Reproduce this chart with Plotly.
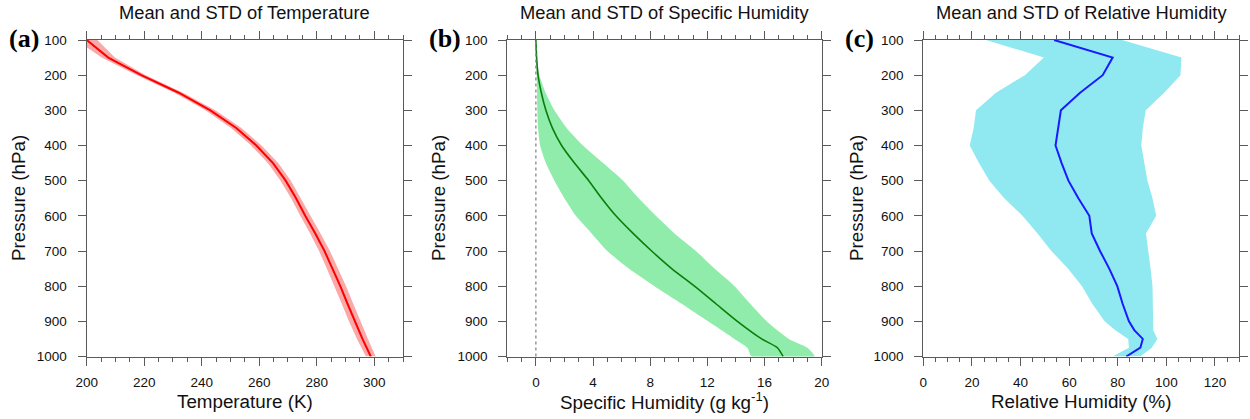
import plotly.graph_objects as go
from plotly.subplots import make_subplots

# --- data ------------------------------------------------------------------
# (a) temperature, K
t_levels = [100, 150, 200, 250, 300, 350, 400, 450, 500, 550,
            600, 650, 700, 750, 800, 850, 900, 950, 1000]
t_mean = [200.0, 207.5, 219.0, 232.0, 243.0, 252.0, 259.0, 264.8, 269.2, 272.8,
          276.0, 279.5, 282.7, 285.5, 288.2, 290.7, 293.2, 295.9, 298.8]
t_std = [3.7, 2.3, 1.5, 1.5, 1.7, 1.8, 1.8, 1.8, 1.8, 1.7,
         1.7, 1.8, 1.9, 2.0, 2.0, 2.0, 2.0, 1.9, 1.7]

# (b) specific humidity, g/kg
q_levels = [100, 150, 200, 250, 300, 350, 400, 450, 500, 550,
            600, 650, 700, 750, 800, 850, 900, 950, 975, 1000]
q_mean = [0.0, 0.05, 0.15, 0.38, 0.7, 1.15, 1.8, 2.7, 3.7, 4.6,
          5.6, 6.8, 8.1, 9.5, 11.1, 12.6, 14.1, 15.8, 16.9, 17.3]
q_std = [0.0, 0.02, 0.1, 0.3, 0.6, 1.0, 1.5, 2.0, 2.4, 2.6,
         2.8, 2.9, 3.1, 3.0, 2.8, 2.4, 2.05, 1.9, 2.1, 2.2]

# (c) relative humidity, %
rh_levels = [100, 150, 200, 250, 300, 350, 400, 450, 500, 550,
             600, 650, 700, 750, 800, 850, 900, 925, 950, 975, 1000]
rh_mean = [53.8, 77.9, 73.8, 64.5, 56.6, 55.5, 54.4, 56.9, 59.7, 63.8,
           68.3, 69.3, 72.7, 76.5, 79.8, 82.0, 84.6, 86.8, 90.3, 89.3, 83.5]
rh_std = [28.0, 28.3, 32.0, 34.6, 34.9, 34.8, 35.3, 34.0, 32.5, 30.5,
          27.5, 22.3, 20.0, 17.0, 14.5, 12.5, 10.0, 7.8, 6.0, 4.7, 5.7]

panels = [
    dict(levels=t_levels, mean=t_mean, std=t_std, line="#ff0000", band="rgb(250,168,168)",
         width=2, shape="linear", xrange=[200, 310], dtick=20, minor=5,
         title="Mean and STD of Temperature", xtitle="Temperature (K)", tag="(a)"),
    dict(levels=q_levels, mean=q_mean, std=q_std, line="#0a7d0a", band="rgb(143,236,170)",
         width=1.6, shape="spline", xrange=[-2, 20], dtick=4, minor=1,
         title="Mean and STD of Specific Humidity",
         xtitle="Specific Humidity (g kg<sup>-1</sup>)", tag="(b)"),
    dict(levels=rh_levels, mean=rh_mean, std=rh_std, line="#1a1aff", band="rgb(144,232,240)",
         width=2, shape="linear", xrange=[0, 130], dtick=20, minor=5,
         title="Mean and STD of Relative Humidity", xtitle="Relative Humidity (%)", tag="(c)"),
]

W, H = 1250, 419
x_domains = [(86.7, 403.0), (507.3, 821.7), (923.3, 1239.3)]
y_top, y_bot = 40.0, 356.5
ylab_x = [18, 438, 856]
tag_x = [24, 445, 860]


def px(x):
    return x / W


def py(y):
    return 1 - y / H


FONT = "Liberation Sans, Arial, Helvetica, sans-serif"
AX = "#5a5a5a"

fig = make_subplots(rows=1, cols=3)

for i, p in enumerate(panels):
    col = i + 1
    lo = [m - s for m, s in zip(p["mean"], p["std"])]
    hi = [m + s for m, s in zip(p["mean"], p["std"])]
    # std band as a closed polygon
    fig.add_trace(go.Scatter(
        x=hi + lo[::-1], y=p["levels"] + p["levels"][::-1],
        fill="toself", fillcolor=p["band"], mode="lines",
        line=dict(width=0, shape=p["shape"], smoothing=0.6),
        hoverinfo="skip", showlegend=False,
    ), row=1, col=col)
    fig.add_trace(go.Scatter(
        x=p["mean"], y=p["levels"], mode="lines",
        line=dict(color=p["line"], width=p["width"], shape=p["shape"], smoothing=0.6),
        showlegend=False,
    ), row=1, col=col)

    x0, x1 = x_domains[i]
    fig.update_xaxes(
        domain=[px(x0), px(x1)], range=p["xrange"], dtick=p["dtick"], tick0=0,
        ticks="outside", ticklen=8, tickwidth=1.2, tickcolor=AX,
        minor=dict(dtick=p["minor"], ticks="outside", ticklen=4, tickwidth=1, tickcolor=AX),
        showline=True, linecolor=AX, linewidth=1.3, mirror="allticks",
        showgrid=False, zeroline=False, ticklabelstandoff=5, automargin=False,
        tickfont=dict(family=FONT, size=13.5, color="#111"),
        row=1, col=col,
    )
    fig.update_yaxes(
        domain=[py(y_bot), py(y_top)], range=[1000, 100], dtick=100, tick0=0,
        ticks="outside", ticklen=8, tickwidth=1.2, tickcolor=AX,
        showline=True, linecolor=AX, linewidth=1.3, mirror="allticks",
        showgrid=False, zeroline=False, ticklabelstandoff=8, automargin=False,
        tickfont=dict(family=FONT, size=13.5, color="#111"),
        row=1, col=col,
    )

    cx = px((x0 + x1) / 2)
    common = dict(xref="paper", yref="paper", showarrow=False, xanchor="center", yanchor="middle")
    fig.add_annotation(text=p["title"], x=cx, y=py(12),
                       font=dict(family=FONT, size=18.3, color="#111"), **common)
    fig.add_annotation(text=p["xtitle"], x=cx, y=py(401),
                       font=dict(family=FONT, size=18.8, color="#111"), **common)
    fig.add_annotation(text="Pressure (hPa)", x=px(ylab_x[i]), y=py(198), textangle=-90,
                       font=dict(family=FONT, size=18.8, color="#111"), **common)
    fig.add_annotation(text="<b>%s</b>" % p["tag"], x=px(tag_x[i]), y=py(38),
                       font=dict(family="Liberation Serif, Times New Roman, serif", size=26,
                                 color="#000"), **common)

# dotted zero line in panel (b)
fig.add_vline(x=0, line=dict(color="#888", width=1.3, dash="dot"), row=1, col=2)

fig.update_layout(
    width=W, height=H,
    margin=dict(l=0, r=0, t=0, b=0, autoexpand=False),
    paper_bgcolor="white", plot_bgcolor="white",
    showlegend=False,
)

# drop the default page margin so the figure sits at the window's corner
fig.write_html("out.html", config={"displayModeBar": False},
               post_script="document.body.style.margin = '0';")
